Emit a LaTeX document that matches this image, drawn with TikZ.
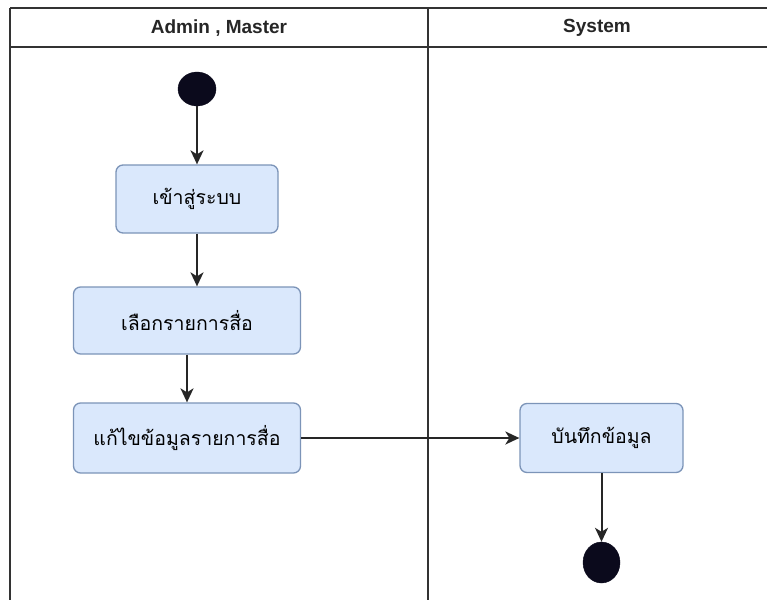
\documentclass[tikz,border=0pt]{standalone}
\usepackage{fontspec}
\setmainfont{Liberation Sans}
\newfontfamily\thaifont[Script=Thai]{Loma}
\usetikzlibrary{arrows.meta,shapes.geometric}
\definecolor{actfill}{HTML}{DAE8FC}
\definecolor{actdraw}{HTML}{7C94B8}
\definecolor{dot}{HTML}{0B0A1C}
\definecolor{lane}{HTML}{333333}
\begin{document}
\begin{tikzpicture}[x=1pt,y=-1pt,
  act/.style={draw=actdraw,fill=actfill,rounded corners=7pt,line width=1.3pt,
    inner sep=0pt,font=\thaifont\fontsize{19.5}{22}\selectfont},
  dotnode/.style={ellipse,fill=dot,draw=dot,inner sep=0pt},
  flow/.style={-{Stealth[length=14pt,width=13pt,inset=4pt]},line width=2pt,draw=black!85},
  lanehead/.style={font=\bfseries\fontsize{19}{22}\selectfont,text=black!85}]
\useasboundingbox (0,0) rectangle (767,599);
\fill[white] (0,0) rectangle (767,599);
% swimlanes
\draw[lane,line width=2pt] (10,8) -- (780,8);
\draw[lane,line width=2pt] (10,47) -- (780,47);
\draw[lane,line width=2pt] (10,8) -- (10,605);
\draw[lane,line width=1.6pt] (428,8) -- (428,605);
\node[lanehead] (h1) at (219,28) {Admin , Master};
\node[lanehead] (h2) at (597,28) {System};
% nodes
\node[dotnode,minimum width=38pt,minimum height=34pt] (start) at (197,89) {};
\node[act,minimum width=162pt,minimum height=68pt] (a1) at (197,199) {เข้าสู่ระบบ};
\node[act,minimum width=227pt,minimum height=67pt] (a2) at (187,320.5) {เลือกรายการสื่อ};
\node[act,minimum width=227pt,minimum height=70pt] (a3) at (187,438) {แก้ไขข้อมูลรายการสื่อ};
\node[act,minimum width=163pt,minimum height=69pt] (a4) at (601.5,438) {บันทึกข้อมูล};
\node[dotnode,minimum width=37pt,minimum height=41pt] (end) at (601.5,562.5) {};
% flows
\draw[flow] (start) -- (a1);
\draw[flow] (a1) -- (a1 |- a2.north);
\draw[flow] (a2) -- (a3);
\draw[flow] (a3) -- (a4);
\draw[flow] (a4) -- (end);
\end{tikzpicture}
\end{document}
